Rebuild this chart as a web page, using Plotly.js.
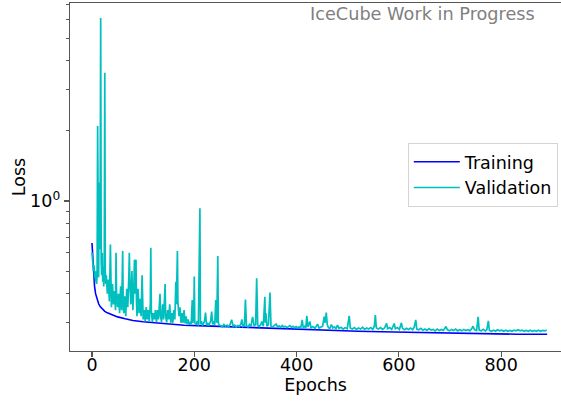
<!DOCTYPE html>
<html>
<head>
<meta charset="utf-8">
<script src="https://cdn.plot.ly/plotly-3.0.1.min.js"></script>
<style>html,body{margin:0;padding:0;background:#fff;}#chart{width:561px;height:404px;}</style>
</head>
<body>
<div id="chart"></div>
<script>
// Training loss (smooth curve)
const trainEpochs = [0,1,2,3,4,5,7,10,13,16,20,25,30,40,50,65,80,100,120,150,180,220,260,300,350,400,460,520,590,650,700,780,830,890];
const trainLoss = [0.66,0.60,0.53,0.48,0.45,0.43,0.40,0.378,0.362,0.352,0.343,0.336,0.331,0.324,0.318,0.312,0.307,0.303,0.300,0.297,0.293,0.291,0.289,0.287,0.284,0.281,0.278,0.276,0.274,0.272,0.271,0.269,0.268,0.268];

// Validation loss (noisy with spikes)
const valEpochs = [
0,1,2,3,4,5,6,7,8,9,10,11,12,13,14,15,16,17,18,19,20,21,22,23,24,25,26,27,28,29,
30,32,34,36,37,38,40,42,44,46,47,48,50,
52,54,56,58,60,61,62,64,66,68,70,72,73,74,76,78,80,82,83,84,86,87,88,90,92,94,96,98,99,100,
102,104,106,108,110,112,114,115,116,118,120,122,124,126,128,130,133,134,136,138,140,143,144,146,148,150,152,154,156,158,160,162,164,165,167,168,170,172,174,176,178,180,182,184,186,188,190,192,194,196,197,199,200,201,
204,206,208,211,212,214,216,218,220,222,224,226,228,230,232,234,236,238,240,242,244,246,247,249,
252,255,258,261,264,267,270,273,276,279,282,285,288,291,293,295,298,300,302,305,308,311,314,317,320,322,324,327,330,332,335,338,339,340,342,345,348,350,353,356,360,363,366,369,372,375,378,381,384,387,390,393,396,399,
402,405,408,411,413,416,418,420,422,424,426,428,432,436,439,441,444,448,451,454,456,458,460,462,465,468,471,474,477,480,483,487,491,495,499,
503,505,509,513,517,521,525,529,533,537,541,545,549,552,554,556,560,564,568,572,576,578,582,586,591,593,597,601,605,607,611,615,619,623,627,630,633,635,639,
643,647,651,655,659,663,667,671,675,679,683,687,692,695,699,703,707,711,715,719,723,727,731,735,739,742,745,748,752,755,757,761,765,769,772,775,777,781,785,789,793,797,801,805,809,813,817,821,825,829,833,837,841,845,849,853,857,861,865,869,873,877,881,885,889
];
const valLoss = [
0.60,0.55,0.57,0.50,0.53,0.47,0.49,0.45,0.50,0.44,0.48,2.10,0.52,0.47,1.20,0.62,0.90,6.10,0.55,0.48,0.60,0.45,0.52,0.43,0.50,3.55,0.50,0.44,0.48,0.42,
0.40,0.46,0.37,0.65,0.42,0.35,0.44,0.36,0.41,0.34,0.60,0.40,0.35,
0.40,0.33,0.43,0.34,0.61,0.37,0.33,0.39,0.32,0.42,0.35,0.47,0.60,0.45,0.36,0.50,0.34,0.44,0.56,0.40,0.56,0.37,0.32,0.42,0.33,0.38,0.32,0.48,0.35,0.31,
0.34,0.305,0.35,0.31,0.34,0.303,0.36,0.63,0.34,0.303,0.33,0.31,0.34,0.302,0.34,0.31,0.40,0.32,0.302,0.36,0.31,0.44,0.32,0.301,0.34,0.31,0.36,0.30,0.33,0.30,0.34,0.31,0.45,0.36,0.61,0.37,0.32,0.35,0.30,0.33,0.30,0.34,0.298,0.32,0.296,0.31,0.295,0.30,0.296,0.376,0.30,0.32,0.474,0.30,
0.296,0.305,0.292,0.93,0.296,0.305,0.292,0.298,0.305,0.332,0.292,0.30,0.292,0.297,0.305,0.335,0.295,0.305,0.294,0.376,0.30,0.58,0.30,0.292,
0.292,0.288,0.295,0.290,0.293,0.288,0.295,0.309,0.290,0.293,0.288,0.292,0.289,0.296,0.31,0.29,0.293,0.378,0.292,0.288,0.295,0.29,0.318,0.291,0.295,0.466,0.292,0.289,0.295,0.304,0.29,0.388,0.30,0.33,0.29,0.294,0.405,0.29,0.288,0.292,0.296,0.288,0.291,0.287,0.292,0.288,0.29,0.286,0.289,0.292,0.287,0.29,0.286,0.289,
0.285,0.288,0.284,0.309,0.286,0.29,0.285,0.321,0.288,0.30,0.304,0.286,0.289,0.284,0.29,0.296,0.285,0.288,0.29,0.319,0.30,0.332,0.295,0.287,0.283,0.295,0.285,0.288,0.283,0.293,0.284,0.287,0.282,0.286,0.283,
0.321,0.285,0.282,0.286,0.281,0.285,0.282,0.287,0.281,0.285,0.282,0.286,0.281,0.29,0.324,0.285,0.282,0.286,0.281,0.285,0.298,0.283,0.286,0.281,0.298,0.283,0.286,0.281,0.30,0.284,0.28,0.284,0.281,0.285,0.28,0.287,0.309,0.282,0.28,
0.284,0.279,0.282,0.278,0.283,0.279,0.281,0.277,0.282,0.278,0.281,0.278,0.289,0.28,0.277,0.281,0.278,0.282,0.277,0.28,0.277,0.281,0.278,0.28,0.277,0.282,0.29,0.28,0.278,0.318,0.279,0.277,0.281,0.277,0.28,0.306,0.278,0.276,0.279,0.276,0.28,0.277,0.279,0.276,0.279,0.276,0.278,0.276,0.279,0.277,0.28,0.277,0.279,0.276,0.278,0.276,0.279,0.276,0.278,0.276,0.279,0.276,0.278,0.277,0.279
];

const xTickVals = [0,200,400,600,800];
const yMajorVals = [1];
const yMajorText = ['10<sup>0</sup>'];
const yMinorVals = [0.3,0.4,0.5,0.6,0.7,0.8,0.9,2,3,4,5,6,7];

const FONT = 'DejaVu Sans, sans-serif';
const AX = '#555';

const traces = [
  {x: trainEpochs, y: trainLoss, type: 'scatter', mode: 'lines', name: 'Training',
   line: {color: '#0000ff', width: 1.6}},
  {x: valEpochs, y: valLoss, type: 'scatter', mode: 'lines', name: 'Validation',
   line: {color: '#00bfbf', width: 1.7}}
];

const layout = {
  width: 561, height: 404,
  margin: {l: 70, r: 0, t: 3, b: 53},
  paper_bgcolor: '#fff', plot_bgcolor: '#fff',
  font: {family: FONT, size: 17.5, color: '#000'},
  showlegend: true,
  legend: {x: 0.688, y: 0.598, xanchor: 'left', yanchor: 'top',
    bgcolor: '#fff', bordercolor: '#d4d4d4', borderwidth: 1,
    itemwidth: 46, tracegroupgap: 0,
    font: {family: FONT, size: 17.5}},
  xaxis: {
    range: [-43, 917], tickmode: 'array', tickvals: xTickVals,
    ticks: 'outside', ticklen: 5, tickwidth: 1.2, tickcolor: AX,
    ticklabelstandoff: -7,
    showline: true, linecolor: AX, linewidth: 1.3, mirror: true,
    showgrid: false, zeroline: false,
    tickfont: {family: FONT, size: 17.5, color: '#000'},
    title: {text: 'Epochs', font: {family: FONT, size: 17.5}, standoff: 4}
  },
  yaxis: {
    type: 'log', range: [-0.644, 0.850],
    tickmode: 'array', tickvals: yMajorVals, ticktext: yMajorText,
    ticks: 'outside', ticklen: 5, tickwidth: 1.2, tickcolor: AX,
    minor: {tickmode: 'array', tickvals: yMinorVals, ticks: 'outside', ticklen: 3, tickwidth: 1, tickcolor: AX, showgrid: false},
    showline: true, linecolor: AX, linewidth: 1.3, mirror: false,
    showgrid: false, zeroline: false,
    tickfont: {family: FONT, size: 17.5, color: '#000'},
    title: {text: 'Loss', font: {family: FONT, size: 17.5}, standoff: 0}
  },
  annotations: [{
    text: 'IceCube Work in Progress', xref: 'paper', yref: 'paper',
    x: 0.951, y: 0.968, xanchor: 'right', yanchor: 'middle', showarrow: false,
    font: {family: FONT, size: 17.7, color: '#808080'}
  }]
};

Plotly.newPlot('chart', traces, layout, {displayModeBar: false, staticPlot: true});
</script>
</body>
</html>
